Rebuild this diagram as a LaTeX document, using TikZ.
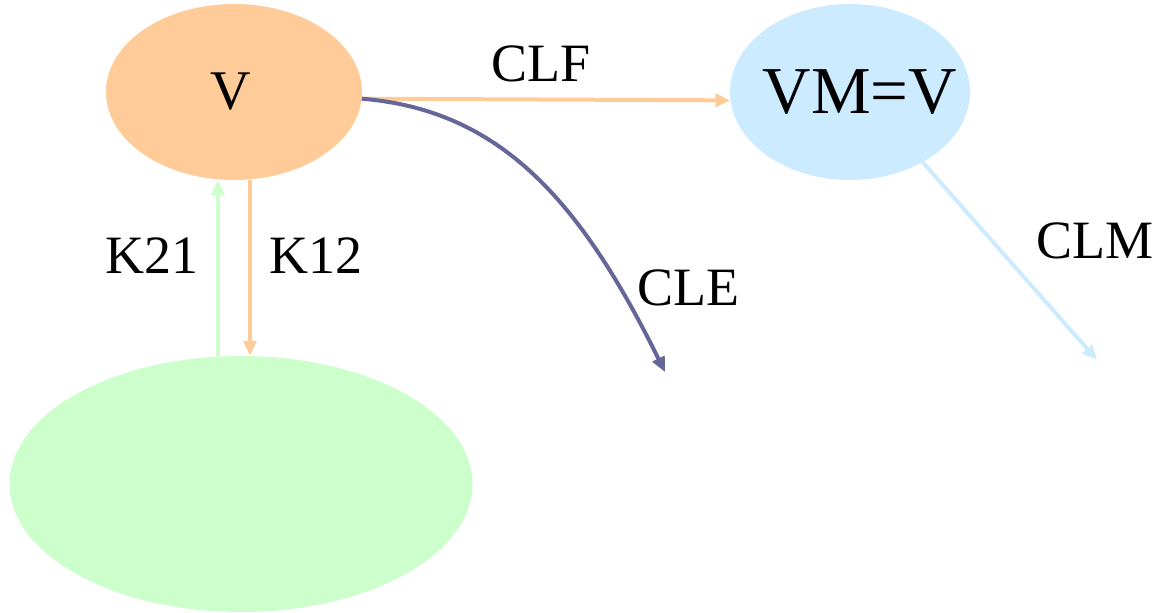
\documentclass[tikz,border=0pt]{standalone}
\usepackage{fontspec}
\setmainfont{Liberation Serif}
\usetikzlibrary{shapes.geometric,arrows.meta}
\definecolor{peach}{HTML}{FFCC99}
\definecolor{lblue}{HTML}{CCEBFF}
\definecolor{lgreen}{HTML}{CCFFCC}
\definecolor{slate}{HTML}{666699}
\tikzset{
  blob/.style={ellipse, inner sep=0pt},
  lbl/.style={font=\fontsize{54}{64}\selectfont, anchor=base, inner sep=0pt},
  conn/.style={line width=4pt, -{Triangle[length=15pt,width=13pt]}},
}
\begin{document}
\begin{tikzpicture}[x=1pt,y=-1pt]
\useasboundingbox (0,0) rectangle (1157,613);
\node[blob, fill=peach, minimum width=256pt, minimum height=176pt,
      font=\fontsize{56}{66}\selectfont] (V) at (234,92) {\makebox[0pt]{\hspace*{-6pt}V}};
\node[blob, fill=lblue, minimum width=240pt, minimum height=176pt,
      font=\fontsize{67}{80}\selectfont] (VM) at (850,92) {\makebox[0pt]{\hspace*{20pt}VM=V}};
\node[blob, fill=lgreen, minimum width=463pt, minimum height=256pt] (G) at (241,484) {};
\coordinate (cleend) at (665,372);
\coordinate (clmend) at (1097,360);
% CLF
\draw[conn, draw=peach] (V.-3.6) -- (VM.-176.2);
% CLE
\draw[conn, draw=slate] (V.-3.6) .. controls (500,110) and (580,200) .. (cleend);
% CLM
\draw[conn, draw=lblue] (VM.-44.6) -- (clmend);
% K21
\draw[conn, draw=lgreen] ([xshift=-23pt]G.north) -- ([xshift=-16pt]V.south);
% K12
\draw[conn, draw=peach] ([xshift=16pt]V.south) -- ([xshift=9pt]G.north);
% labels
\node[lbl] (lclf) at (541,81) {CLF};
\node[lbl] (lcle) at (688,305) {CLE};
\node[lbl] (lclm) at (1095,258) {CLM};
\node[lbl] (lk21) at (152,273) {K21};
\node[lbl] (lk12) at (316,273) {K12};
\end{tikzpicture}
\end{document}
